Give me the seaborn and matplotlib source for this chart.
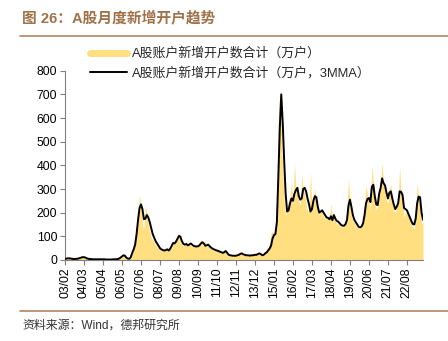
import numpy as np
import pandas as pd
import matplotlib
matplotlib.use("Agg")
import matplotlib.pyplot as plt
from matplotlib.lines import Line2D
import seaborn as sns

# ---------------- data (monthly, 2003/02 - 2023/07) ----------------
tick_labels = ["03/02", "04/03", "05/04", "06/05", "07/06", "08/07", "09/08",
               "10/09", "11/10", "12/11", "13/12", "15/01", "16/02", "17/03",
               "18/04", "19/05", "20/06", "21/07", "22/08"]

monthly = [
    5, 7, 8, 6, 5, 4, 4, 5, 6, 7, 9, 12, 14,
    12, 8, 5, 4, 4, 3, 3, 3, 3, 3, 3, 3, 3,
    3, 2, 2, 2, 2, 2, 3, 3, 3, 4, 6, 10, 18,
    22, 20, 12, 6, 4, 8, 20, 40, 55, 80, 140, 200, 275,
    230, 150, 130, 230, 200, 150, 120, 95, 85, 75, 65, 55, 50,
    45, 42, 40, 38, 45, 48, 38, 55, 70, 80, 65, 85, 100,
    112, 85, 65, 60, 72, 62, 65, 75, 60, 58, 60, 55, 58,
    60, 65, 90, 70, 55, 85, 55, 62, 50, 48, 45, 40, 42,
    38, 35, 32, 30, 35, 45, 25, 20, 18, 18, 17, 17, 18,
    19, 22, 28, 30, 25, 20, 19, 18, 18, 19, 20, 21, 23,
    22, 25, 30, 26, 18, 22, 30, 35, 45, 55, 70, 115, 120,
    110, 155, 330, 600, 720, 560, 380, 250, 185, 230, 250, 270, 330,
    230, 410, 300, 290, 250, 230, 360, 300, 280, 240, 200, 220, 370,
    230, 250, 300, 260, 200, 190, 210, 205, 185, 175, 180, 170, 180,
    240, 150, 200, 165, 150, 160, 145, 140, 140, 150, 165, 230, 340,
    260, 190, 165, 160, 145, 140, 135, 140, 150, 175, 230, 320, 270,
    250, 210, 400, 330, 240, 210, 230, 300, 330, 410, 320, 290, 250,
    240, 300, 320, 250, 210, 200, 230, 250, 395, 280, 260, 180, 200,
    200, 190, 170, 150, 140, 130, 200, 330, 260, 250, 150, 160,
]

ma3 = [
    5, 6, 7, 7, 6, 5, 4, 4, 5, 6, 8, 10, 12,
    12, 10, 7, 5, 4, 4, 3, 3, 3, 3, 3, 3, 3,
    3, 3, 2, 2, 2, 2, 2, 3, 3, 3, 4, 6, 10,
    15, 20, 18, 10, 6, 5, 12, 30, 45, 65, 110, 170, 220,
    235, 215, 172, 175, 190, 180, 160, 135, 110, 95, 80, 70, 60,
    50, 45, 42, 40, 42, 45, 40, 48, 60, 72, 70, 78, 90,
    102, 98, 80, 68, 65, 68, 62, 65, 70, 65, 60, 58, 57,
    58, 62, 70, 75, 70, 60, 62, 65, 58, 52, 48, 45, 42,
    40, 38, 35, 33, 30, 33, 38, 30, 22, 20, 19, 18, 18,
    18, 20, 22, 26, 28, 24, 22, 20, 20, 19, 19, 20, 20,
    22, 22, 25, 28, 25, 20, 22, 28, 32, 40, 48, 60, 90,
    105, 110, 160, 350, 560, 700, 580, 420, 280, 205, 210, 240, 260,
    250, 280, 295, 305, 270, 255, 260, 300, 305, 290, 260, 235, 205,
    215, 250, 270, 265, 225, 200, 205, 210, 200, 190, 180, 178, 172,
    185, 168, 190, 175, 165, 162, 155, 148, 145, 145, 152, 170, 230,
    255, 225, 190, 170, 160, 150, 140, 138, 142, 155, 190, 240, 258,
    262, 245, 310, 318, 270, 235, 232, 280, 305, 345, 325, 315, 285,
    260, 285, 290, 260, 235, 215, 225, 240, 290, 288, 275, 220, 215,
    210, 195, 180, 165, 152, 150, 175, 240, 268, 265, 200, 170,
]

label_area = "A股账户新增开户数合计（万户）"
label_ma = "A股账户新增开户数合计（万户，3MMA）"
title_text = "图 26：A股月度新增开户趋势"
source_text = "资料来源：Wind，德邦研究所"

df = pd.DataFrame({"idx": np.arange(len(monthly)), "monthly": monthly, "ma3": ma3})

# ---------------- figure ----------------
sns.set_theme(style="white")
plt.rcParams["font.family"] = ["Liberation Sans", "Noto Sans CJK SC", "DejaVu Sans"]

W, H = 448, 341
fig = plt.figure(figsize=(W / 100, H / 100), dpi=100)
ax = fig.add_axes([65 / W, 1 - 260 / H, (423 - 65) / W, (260 - 70.7) / H])

yellow = "#FFDF80"
ax.fill_between(df["idx"], 0, df["monthly"], color=yellow, linewidth=0, zorder=1)
sns.lineplot(data=df, x="idx", y="ma3", color="black", linewidth=1.4, ax=ax, zorder=3)

ax.set_xlim(0, len(monthly) - 1)
ax.set_ylim(0, 800)
ax.set_yticks(np.arange(0, 801, 100))
ax.set_xticks(np.arange(0, 13 * len(tick_labels), 13))
ax.set_xticklabels(tick_labels, rotation=90)
ax.set_xlabel("")
ax.set_ylabel("")

for s in ["top", "right"]:
    ax.spines[s].set_visible(False)
for s in ["left", "bottom"]:
    ax.spines[s].set_color("#808080")
    ax.spines[s].set_linewidth(0.8)
ax.tick_params(axis="both", which="both", direction="out", length=3.5, width=0.8,
               color="#808080", labelsize=8.8, labelcolor="black", pad=2,
               bottom=True, left=True)
ax.grid(False)

# legend
handles = [Line2D([0], [0], color=yellow, linewidth=5),
           Line2D([0], [0], color="black", linewidth=1.4)]
fig.legend(handles, [label_area, label_ma], loc="upper left",
           bbox_to_anchor=(90 / W, 1 - 47.5 / H), frameon=False,
           fontsize=9.3, handlelength=2.9, handletextpad=0.35,
           labelspacing=0.5, borderaxespad=0, borderpad=0)

# title and rules
fig.text(22 / W, 1 - 18 / H, title_text, fontsize=10.6, fontweight="bold",
         color="#A0724A", va="center", ha="left")
fig.add_artist(Line2D([20 / W, 1.0], [1 - 36 / H, 1 - 36 / H], color="#B08462",
                      linewidth=1.2, transform=fig.transFigure))
fig.add_artist(Line2D([20 / W, 1.0], [1 - 311 / H, 1 - 311 / H], color="#B08462",
                      linewidth=1.2, transform=fig.transFigure))
fig.text(22 / W, 1 - 326 / H, source_text, fontsize=8.6, color="#333333",
         va="center", ha="left")

fig.savefig("out.png", dpi=100)
